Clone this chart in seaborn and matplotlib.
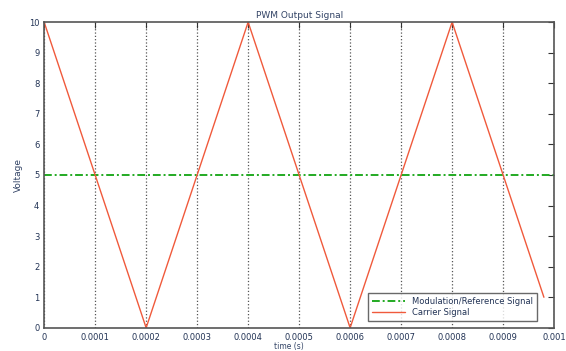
import numpy as np
import pandas as pd
import matplotlib
matplotlib.use("Agg")
import matplotlib.pyplot as plt
import seaborn as sns

# data
carrier_t = [0.0, 0.0002, 0.0004, 0.0006, 0.0008, 0.00098]
carrier_v = [10, 0, 10, 0, 10, 1]
ref_t = [0.0, 0.001]
ref_v = [5, 5]
x_ticks = [0, 0.0001, 0.0002, 0.0003, 0.0004, 0.0005, 0.0006, 0.0007, 0.0008, 0.0009, 0.001]
x_labels = ["0", "0.0001", "0.0002", "0.0003", "0.0004", "0.0005",
            "0.0006", "0.0007", "0.0008", "0.0009", "0.001"]
y_ticks = list(range(0, 11))

sns.set_style("white")
plt.rcParams['font.family'] = ['DejaVu Sans']

ref_df = pd.DataFrame({"t": ref_t, "v": ref_v})
car_df = pd.DataFrame({"t": carrier_t, "v": carrier_v})

fig = plt.figure(figsize=(5.66, 3.51), dpi=100)
ax = fig.add_axes([0.078, 0.066, 0.901, 0.871])

sns.lineplot(data=ref_df, x="t", y="v", ax=ax, color="#22aa22", lw=1.4,
             dashes=(4, 1.5, 1, 1.5), label="Modulation/Reference Signal")
sns.lineplot(data=car_df, x="t", y="v", ax=ax, color="#f05a3c", lw=1.0,
             label="Carrier Signal")
ax.lines[0].set_dashes((4, 1.5, 1, 1.5))

ax.set_xlim(0, 0.001)
ax.set_ylim(0, 10)
ax.set_xticks(x_ticks)
ax.set_xticklabels(x_labels)
ax.set_yticks(y_ticks)
ax.grid(axis="x", linestyle=":", color="#555555", lw=0.9)
ax.grid(axis="y", visible=False)
ax.tick_params(direction="in", top=True, right=True, labelsize=6,
               length=4, colors="#333333", labelcolor="#223355")
for s in ax.spines.values():
    s.set_color("#555555")
    s.set_linewidth(1.2)

ax.set_title("PWM Output Signal", fontsize=6.5, color="#334466", pad=3)
ax.set_xlabel("time (s)", fontsize=5.5, color="#334466")
ax.xaxis.set_label_coords(0.48, -0.045)
ax.set_ylabel("Voltage", fontsize=6.5, color="#334466", labelpad=4)

leg = ax.legend(loc="lower right", bbox_to_anchor=(0.967, 0.022),
                fontsize=6, frameon=True, fancybox=False,
                edgecolor="#444444", borderaxespad=0, handlelength=4,
                labelspacing=0.2, borderpad=0.5)
leg.get_frame().set_linewidth(1.0)
for t in leg.get_texts():
    t.set_color("#223355")

fig.savefig("out.png", dpi=100)
